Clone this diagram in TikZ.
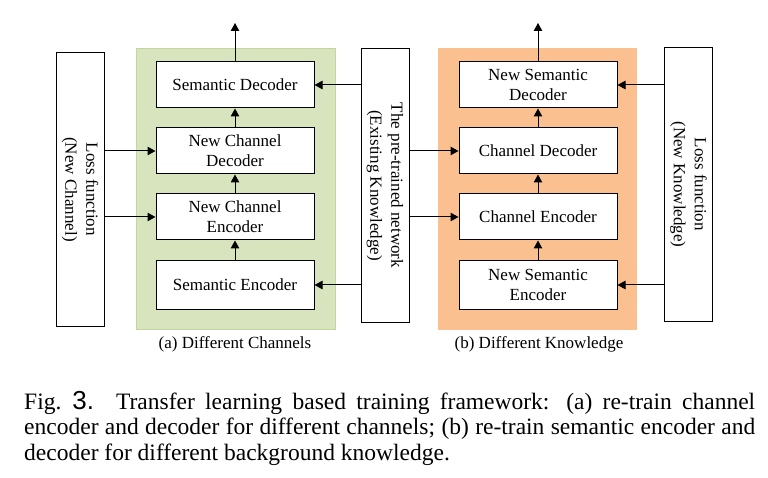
\documentclass[tikz,border=0pt]{standalone}
\usepackage{fontspec}
\setmainfont{Liberation Serif}
\setsansfont{Liberation Sans}
\usetikzlibrary{arrows.meta}
\definecolor{panelgreen}{RGB}{215,228,189}
\definecolor{panelgreenline}{RGB}{195,214,155}
\definecolor{panelorange}{RGB}{250,192,144}
\tikzset{
  blk/.style={draw,fill=white,line width=1pt,minimum width=158pt,minimum height=46pt,inner sep=0pt,align=center,font=\fontsize{17}{20}\selectfont},
  sidebox/.style={draw,fill=white,line width=1pt,rotate=-90,minimum width=273pt,minimum height=48pt,inner sep=0pt,align=center,font=\fontsize{17}{21}\selectfont},
  flow/.style={line width=1pt,-{Triangle[length=8pt,width=8.5pt]}},
  figline/.style={anchor=base west,inner sep=0pt,font=\fontsize{23.5}{25.5}\selectfont}
}
\begin{document}
\begin{tikzpicture}[x=1pt,y=-1pt]
\useasboundingbox (0,0) rectangle (768,478);
\fill[panelgreen,draw=panelgreenline,line width=1pt] (136,49) rectangle (335,329);
\fill[panelorange] (438,48) rectangle (637,330);
\node[sidebox] (lossa) at (80,189.5) {Loss function\\(New Channel)};
\node[blk] (sda) at (235,85) {Semantic Decoder};
\node[blk] (ncd) at (235,151) {New Channel\\Decoder};
\node[blk] (nce) at (235,217) {New Channel\\Encoder};
\node[blk,minimum height=48pt] (sea) at (235,285) {Semantic Encoder};
\node[sidebox] (pre) at (385,185.5) {The pre-trained network\\(Existing Knowledge)};
\node[blk] (nsd) at (538,85) {New Semantic\\Decoder};
\node[blk] (cd) at (538,151) {Channel Decoder};
\node[blk] (ce) at (538,217) {Channel Encoder};
\node[blk,minimum height=48pt] (nse) at (538,285) {New Semantic\\Encoder};
\node[sidebox] (lossb) at (688.5,184.5) {Loss function\\(New Knowledge)};
\coordinate (outa) at (235,23);
\coordinate (outb) at (538,23);
\draw[flow] (sea) -- (nce);
\draw[flow] (nce) -- (ncd);
\draw[flow] (ncd) -- (sda);
\draw[flow] (sda) -- (outa);
\draw[flow] (nse) -- (ce);
\draw[flow] (ce) -- (cd);
\draw[flow] (cd) -- (nsd);
\draw[flow] (nsd) -- (outb);
\draw[flow] (lossa.north |- ncd) -- (ncd.west);
\draw[flow] (lossa.north |- nce) -- (nce.west);
\draw[flow] (pre.south |- sda) -- (sda.east);
\draw[flow] (pre.south |- sea) -- (sea.east);
\draw[flow] (pre.north |- cd) -- (cd.west);
\draw[flow] (pre.north |- ce) -- (ce.west);
\draw[flow] (lossb.south |- nsd) -- (nsd.east);
\draw[flow] (lossb.south |- nse) -- (nse.east);
\node[anchor=base,font=\fontsize{17}{20}\selectfont] (capa) at (235,348) {(a) Different Channels};
\node[anchor=base,font=\fontsize{17}{20}\selectfont] (capb) at (539,348) {(b) Different Knowledge};
\node[figline] (fig1) at (24,409) {\makebox[731pt][s]{Fig.\hspace{11pt}{\sffamily\fontsize{26}{25}\selectfont 3.}\hspace{22pt}Transfer learning based training framework: (a) re-train channel}};
\node[figline] (fig2) at (24,434.5) {\makebox[731pt][s]{encoder and decoder for different channels; (b) re-train semantic encoder and}};
\node[figline] (fig3) at (24,460) {decoder for different background knowledge.};
\end{tikzpicture}
\end{document}
